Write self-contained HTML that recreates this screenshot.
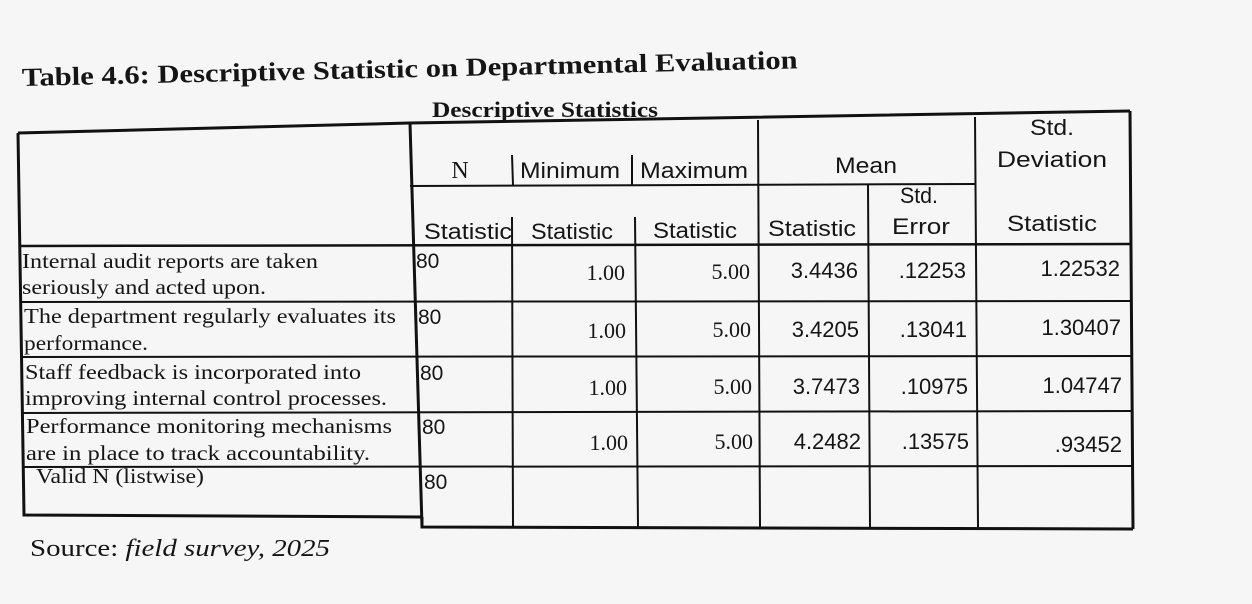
<!DOCTYPE html>
<html><head><meta charset="utf-8"><style>
html,body{margin:0;padding:0;background:#f6f6f6;}
svg{display:block}
.s{font-family:"Liberation Serif",serif;fill:#151515}
.a{font-family:"Liberation Sans",sans-serif;fill:#151515}
</style></head><body>
<svg width="1252" height="604" viewBox="0 0 1252 604">
<rect width="1252" height="604" fill="#f6f6f6"/>
<text x="22" y="86" class="s" font-size="26" font-weight="bold" textLength="776" lengthAdjust="spacingAndGlyphs" transform="rotate(-1.3 22 86)">Table 4.6:  Descriptive Statistic on Departmental Evaluation</text>
<text x="432" y="117" class="s" font-size="22" font-weight="bold" textLength="226" lengthAdjust="spacingAndGlyphs">Descriptive Statistics</text>
<g stroke="#111" fill="none">
<path d="M18 133 L410 123 L1130 111" stroke-width="3"/>
<path d="M18 133 L24 515 L422 517" stroke-width="3"/>
<path d="M422 517 L422 527 L1133 529" stroke-width="3"/>
<path d="M1130 111 L1133 529" stroke-width="3"/>
<path d="M410 123 L422 527" stroke-width="3"/>
<path d="M512 155 L513 185 M632 155 L632 185 M758 120 L760 527 M868 185 L870 527 M975 117 L978 527" stroke-width="2"/>
<path d="M512 217 L513 527 M635 217 L638 527" stroke-width="2"/>
<path d="M410 186 L975 184" stroke-width="2"/>
<path d="M20 246 L1131 244" stroke-width="2.5"/>
<path d="M21 302 L1131 301" stroke-width="2"/>
<path d="M21 357 L1132 356" stroke-width="2"/>
<path d="M22 413 L1132 411" stroke-width="2"/>
<path d="M23 467 L1132 466" stroke-width="2"/>
</g>
<g class="a" font-size="22" lengthAdjust="spacingAndGlyphs">
<text x="460" y="178" text-anchor="middle" class="s" font-size="24">N</text>
<text x="520" y="178" textLength="100" lengthAdjust="spacingAndGlyphs">Minimum</text>
<text x="640" y="178" textLength="108" lengthAdjust="spacingAndGlyphs">Maximum</text>
<text x="835" y="173" textLength="62" lengthAdjust="spacingAndGlyphs">Mean</text>
<text x="1030" y="135" textLength="44" lengthAdjust="spacingAndGlyphs">Std.</text>
<text x="997" y="167" textLength="110" lengthAdjust="spacingAndGlyphs">Deviation</text>
<text x="900" y="203" textLength="38" lengthAdjust="spacingAndGlyphs">Std.</text>
<text x="892" y="234" textLength="58" lengthAdjust="spacingAndGlyphs">Error</text>
<text x="424" y="239" textLength="88" lengthAdjust="spacingAndGlyphs">Statistic</text>
<text x="531" y="239" textLength="82" lengthAdjust="spacingAndGlyphs">Statistic</text>
<text x="653" y="238" textLength="84" lengthAdjust="spacingAndGlyphs">Statistic</text>
<text x="768" y="236" textLength="88" lengthAdjust="spacingAndGlyphs">Statistic</text>
<text x="1007" y="231" textLength="90" lengthAdjust="spacingAndGlyphs">Statistic</text>
</g>
<g class="s" font-size="21">
<text x="22" y="268" textLength="296" lengthAdjust="spacingAndGlyphs">Internal audit reports are taken</text>
<text x="22" y="294" textLength="244" lengthAdjust="spacingAndGlyphs">seriously and acted upon.</text>
<text x="24" y="323" textLength="372" lengthAdjust="spacingAndGlyphs">The department regularly evaluates its</text>
<text x="24" y="350" textLength="124" lengthAdjust="spacingAndGlyphs">performance.</text>
<text x="25" y="379" textLength="336" lengthAdjust="spacingAndGlyphs">Staff feedback is incorporated into</text>
<text x="25" y="405" textLength="362" lengthAdjust="spacingAndGlyphs">improving internal control processes.</text>
<text x="26" y="433" textLength="366" lengthAdjust="spacingAndGlyphs">Performance monitoring mechanisms</text>
<text x="26" y="460" textLength="344" lengthAdjust="spacingAndGlyphs">are in place to track accountability.</text>
<text x="36" y="483" textLength="168" lengthAdjust="spacingAndGlyphs">Valid N (listwise)</text>
<text x="30" y="556" font-size="24" textLength="300" lengthAdjust="spacingAndGlyphs">Source: <tspan font-style="italic">field survey, 2025</tspan></text>
</g>
<g class="a" font-size="21">
<text x="416" y="268">80</text><text x="418" y="324">80</text><text x="420" y="380">80</text><text x="422" y="434">80</text><text x="424" y="489">80</text>
</g>
<g class="s" font-size="22" text-anchor="end">
<text x="625" y="280">1.00</text><text x="626" y="338">1.00</text><text x="627" y="395">1.00</text><text x="628" y="450">1.00</text>
<text x="750" y="279">5.00</text><text x="751" y="337">5.00</text><text x="752" y="394">5.00</text><text x="753" y="449">5.00</text>
</g>
<g class="a" font-size="22" text-anchor="end">
<text x="858" y="278">3.4436</text><text x="859" y="337">3.4205</text><text x="860" y="394">3.7473</text><text x="861" y="449">4.2482</text>
<text x="966" y="278">.12253</text><text x="967" y="337">.13041</text><text x="968" y="394">.10975</text><text x="969" y="449">.13575</text>
<text x="1120" y="276">1.22532</text><text x="1121" y="335">1.30407</text><text x="1122" y="393">1.04747</text><text x="1122" y="452">.93452</text>
</g>
</svg>
</body></html>
